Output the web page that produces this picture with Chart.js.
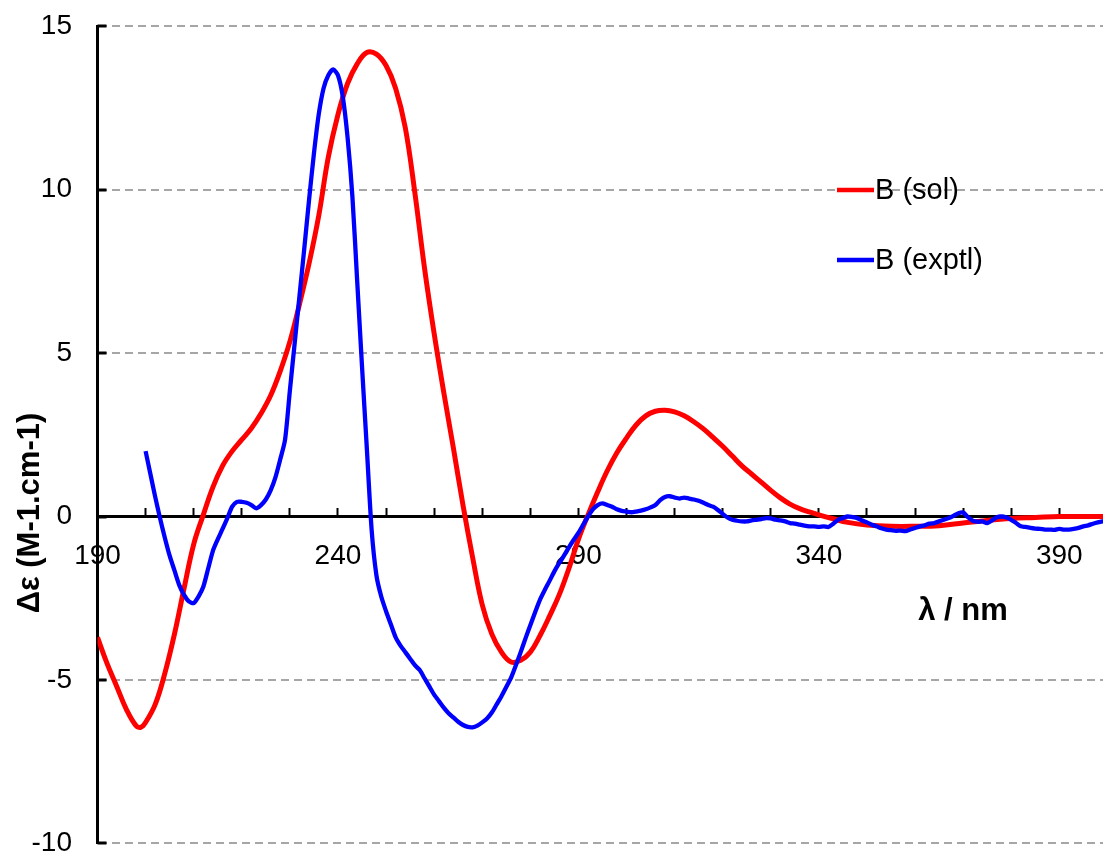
<!DOCTYPE html>
<html>
<head>
<meta charset="utf-8">
<title>CD spectra of B</title>
<script src="https://cdn.jsdelivr.net/npm/chart.js@4.4.1/dist/chart.umd.min.js"></script>
<style>
  html, body { margin: 0; padding: 0; background: #ffffff; overflow: hidden; }
  #wrap { position: relative; width: 1108px; height: 858px; }
</style>
</head>
<body>
<div id="wrap"><canvas id="cd"></canvas></div>
<script>
// Calculated spectrum (solvent model): wavelength in nm and Δε
const solWavelength = [190, 192, 194, 196, 198, 199, 200, 202, 204, 206, 208, 210, 212, 214, 216, 218, 220,
  222, 224, 226, 228, 230, 232, 234, 236, 238, 240, 242, 244, 246, 248, 250, 252, 254, 256, 258, 260,
  262, 264, 266, 268, 270, 272, 274, 276, 278, 280, 282, 284, 286, 288, 290, 292, 294, 296, 298, 300,
  302, 304, 306, 308, 310, 312, 314, 316, 318, 320, 322, 324, 326, 328, 330, 332, 334, 336, 338, 340,
  343, 346, 350, 355, 360, 365, 370, 375, 380, 385, 390, 395, 400];
const solDelta = [-3.7, -4.5, -5.2, -5.9, -6.4, -6.45, -6.3, -5.75, -4.8, -3.6, -2.2, -0.85, 0.05, 0.9, 1.55, 2.0, 2.35,
  2.7, 3.15, 3.7, 4.45, 5.35, 6.5, 7.75, 9.2, 11.0, 12.3, 13.25, 13.85, 14.2, 14.15, 13.8, 13.1, 11.9, 9.9, 7.6, 5.6,
  3.8, 2.1, 0.35, -1.25, -2.7, -3.6, -4.15, -4.45, -4.4, -4.15, -3.65, -3.05, -2.4, -1.6, -0.7, 0.05, 0.75, 1.4, 1.95, 2.4,
  2.8, 3.08, 3.22, 3.25, 3.2, 3.08, 2.9, 2.68, 2.42, 2.15, 1.85, 1.55, 1.3, 1.05, 0.8, 0.57, 0.38, 0.24, 0.14, 0.05,
  -0.07, -0.18, -0.26, -0.3, -0.3, -0.28, -0.2, -0.12, -0.06, -0.03, 0.0, 0.0, 0.0];

// Measured spectrum: wavelength in nm and Δε
const exptlWavelength = [200, 201, 202, 203, 204, 205, 206, 207, 208, 209, 210, 211, 212, 213, 214, 215, 216, 217, 218, 219,
  220, 221, 222, 223, 224, 225, 226, 227, 228, 229, 230, 231, 232, 233, 234, 235, 236, 237, 238, 239,
  240, 241, 242, 243, 244, 245, 246, 247, 248, 249, 250, 251, 252, 253, 254, 255, 256, 257, 258, 259,
  260, 261, 262, 263, 264, 265, 266, 267, 268, 269, 270, 271, 272, 273, 274, 275, 276, 277, 278, 279,
  280, 281, 282, 283, 284, 285, 286, 287, 288, 289, 290, 291, 292, 293, 294, 295, 296, 297, 298, 299,
  300, 301, 302, 303, 304, 305, 306, 307, 308, 309, 310, 311, 312, 313, 314, 315, 316, 317, 318, 319,
  320, 321, 322, 323, 324, 325, 326, 327, 328, 329, 330, 331, 332, 333, 334, 335, 336, 337, 338, 339,
  340, 341, 342, 343, 344, 345, 346, 347, 348, 349, 350, 351, 352, 353, 354, 355, 356, 357, 358, 359,
  360, 361, 362, 363, 364, 365, 366, 367, 368, 369, 370, 371, 372, 373, 374, 375, 376, 377, 378, 379,
  380, 381, 382, 383, 384, 385, 386, 387, 388, 389, 390, 391, 392, 393, 394, 395, 396, 397, 398, 399, 400];
const exptlDelta = [2.0, 1.3, 0.6, -0.05, -0.65, -1.2, -1.65, -2.1, -2.4, -2.6, -2.65, -2.45, -2.15, -1.6, -1.05, -0.7, -0.38, -0.05, 0.3, 0.45,
  0.45, 0.42, 0.35, 0.25, 0.35, 0.52, 0.8, 1.2, 1.75, 2.35, 3.85, 5.3, 6.75, 8.2, 9.7, 11.1, 12.3, 13.1, 13.5, 13.68,
  13.5, 12.85, 11.6, 9.8, 7.2, 4.6, 2.1, -0.4, -1.8, -2.45, -2.9, -3.3, -3.7, -3.95, -4.15, -4.35, -4.55, -4.7, -4.95, -5.2,
  -5.45, -5.65, -5.85, -6.02, -6.15, -6.28, -6.38, -6.44, -6.45, -6.4, -6.3, -6.18, -6.0, -5.75, -5.5, -5.22, -4.93, -4.55, -4.15, -3.73,
  -3.33, -2.93, -2.55, -2.25, -1.97, -1.68, -1.43, -1.2, -0.95, -0.72, -0.5, -0.25, 0.0, 0.22, 0.35, 0.4, 0.35, 0.3, 0.22, 0.17,
  0.15, 0.13, 0.15, 0.18, 0.22, 0.28, 0.35, 0.5, 0.6, 0.62, 0.58, 0.55, 0.58, 0.55, 0.52, 0.48, 0.42, 0.35, 0.3, 0.2,
  0.08, -0.03, -0.1, -0.13, -0.15, -0.15, -0.12, -0.1, -0.08, -0.05, -0.06, -0.1, -0.12, -0.15, -0.2, -0.22, -0.25, -0.28, -0.3, -0.3,
  -0.32, -0.3, -0.32, -0.22, -0.1, -0.05, 0.0, -0.02, -0.05, -0.12, -0.18, -0.25, -0.3, -0.36, -0.4, -0.42, -0.44, -0.43, -0.45, -0.4,
  -0.35, -0.3, -0.27, -0.22, -0.2, -0.15, -0.1, -0.05, 0.02, 0.1, 0.12, -0.02, -0.13, -0.16, -0.15, -0.2, -0.12, -0.02, 0.0, -0.03,
  -0.1, -0.2, -0.3, -0.32, -0.35, -0.37, -0.38, -0.4, -0.4, -0.41, -0.38, -0.4, -0.4, -0.38, -0.35, -0.3, -0.27, -0.22, -0.18, -0.15, -0.12];

const seriesNames = ['B (sol)', 'B (exptl)'];
const labelledWavelengths = [190, 240, 290, 340, 390];
const xTitle = 'λ / nm';
const yTitle = 'Δε (M-1.cm-1)';

const FONT = "'Liberation Sans', Arial, Helvetica, sans-serif";
const TICK_SIZE = 28;
const LEGEND_SIZE = 29;
const TITLE_SIZE = 31;

function toPoints(xs, ys) {
  return xs.map((x, i) => ({ x: x, y: ys[i] }));
}

// Short inward tick marks on the value axis, at the axis' own tick values
const inwardTicks = {
  id: 'inwardTicks',
  beforeDatasetsDraw(chart) {
    const ctx = chart.ctx;
    const ys = chart.scales.y;
    const left = chart.chartArea.left;
    ctx.save();
    ctx.strokeStyle = '#000';
    ctx.lineWidth = 3;
    ys.ticks.forEach((t) => {
      const py = Math.round(ys.getPixelForValue(t.value));
      ctx.beginPath();
      ctx.moveTo(left, py);
      ctx.lineTo(left + 9, py);
      ctx.stroke();
    });
    ctx.restore();
  }
};

// Legend rows and axis titles, placed inside the plot like the spreadsheet original
const annotations = {
  id: 'annotations',
  afterDraw(chart) {
    const ctx = chart.ctx;
    ctx.save();
    ctx.textBaseline = 'middle';
    ctx.fillStyle = '#000';

    const rows = [190, 260];
    chart.data.datasets.forEach((ds, i) => {
      const y = rows[i];
      ctx.strokeStyle = ds.borderColor;
      ctx.lineWidth = 4.5;
      ctx.lineCap = 'butt';
      ctx.beginPath();
      ctx.moveTo(837, y);
      ctx.lineTo(874, y);
      ctx.stroke();
      ctx.font = LEGEND_SIZE + 'px ' + FONT;
      ctx.textAlign = 'left';
      ctx.fillText(ds.label, 875, y + 1);
    });

    ctx.font = 'bold ' + TITLE_SIZE + 'px ' + FONT;
    ctx.textAlign = 'center';
    ctx.fillText(xTitle, 963, 611);

    ctx.translate(30, 513);
    ctx.rotate(-Math.PI / 2);
    ctx.fillText(yTitle, 0, 0);
    ctx.restore();
  }
};

Chart.defaults.font.family = FONT;
Chart.defaults.color = '#000';

new Chart(document.getElementById('cd'), {
  type: 'line',
  data: {
    datasets: [
      {
        label: seriesNames[0],
        data: toPoints(solWavelength, solDelta),
        borderColor: '#ff0000',
        backgroundColor: '#ff0000',
        borderWidth: 5,
        pointRadius: 0,
        tension: 0.4,
        fill: false,
        order: 2
      },
      {
        label: seriesNames[1],
        data: toPoints(exptlWavelength, exptlDelta),
        borderColor: '#0000ff',
        backgroundColor: '#0000ff',
        borderWidth: 4.3,
        pointRadius: 0,
        tension: 0.25,
        fill: false,
        order: 1
      }
    ]
  },
  options: {
    responsive: true,
    maintainAspectRatio: false,
    animation: false,
    events: [],
    layout: { padding: { left: 0, right: 0.6, top: 26.3, bottom: 14.7 } },
    plugins: {
      legend: { display: false },
      tooltip: { enabled: false },
      title: { display: false }
    },
    scales: {
      x: {
        type: 'linear',
        min: 190,
        max: 400,
        position: { y: 0 },
        afterFit: (scale) => {
          scale.height = 0;
          scale.paddingLeft = 0;
          scale.paddingRight = 0;
          scale.paddingTop = 0;
          scale.paddingBottom = 0;
        },
        border: { display: true, color: '#000', width: 3 },
        grid: {
          drawOnChartArea: false,
          drawTicks: true,
          tickLength: -10,
          tickColor: '#000',
          tickWidth: 2
        },
        ticks: {
          stepSize: 10,
          autoSkip: false,
          maxRotation: 0,
          minRotation: 0,
          padding: 33,
          font: { size: TICK_SIZE },
          color: '#000',
          callback: (v) => labelledWavelengths.includes(v) ? String(v) : ''
        }
      },
      y: {
        type: 'linear',
        min: -10,
        max: 15,
        position: 'left',
        afterFit: (scale) => {
          scale.width = 97.5;
          scale.paddingTop = 0;
          scale.paddingBottom = 0;
          scale.paddingLeft = 0;
          scale.paddingRight = 0;
        },
        border: { display: true, color: '#000', width: 3, dash: [8, 5] },
        grid: {
          color: (c) => (c.tick && c.tick.value === 0) ? 'rgba(0,0,0,0)' : '#a6a6a6',
          lineWidth: 2,
          drawTicks: false
        },
        ticks: {
          stepSize: 5,
          padding: 25.5,
          font: { size: TICK_SIZE, lineHeight: 1.0 },
          color: '#000'
        }
      }
    }
  },
  plugins: [inwardTicks, annotations]
});
</script>
</body>
</html>
